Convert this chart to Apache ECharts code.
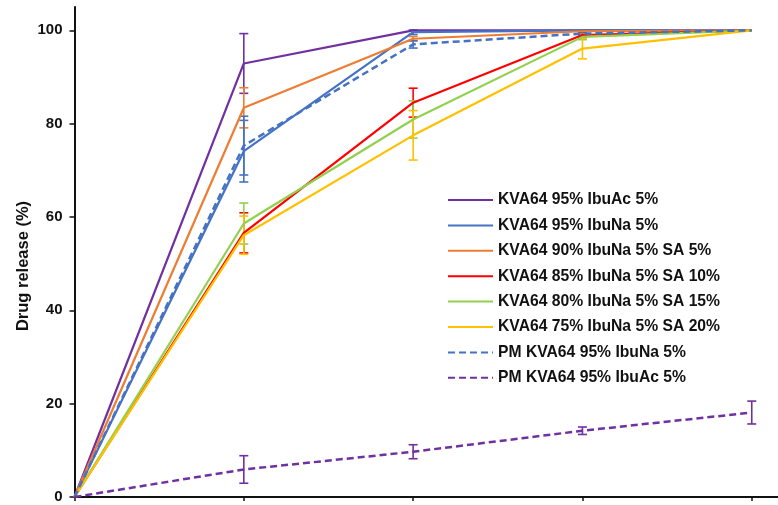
<!DOCTYPE html>
<html>
<head>
<meta charset="utf-8">
<script src="https://cdn.jsdelivr.net/npm/echarts@6/dist/echarts.min.js"></script>
<style>
html,body{margin:0;padding:0;background:#fff;}
#chart{width:778px;height:505px;}
</style>
</head>
<body>
<div id="chart"></div>
<script>
// Time points (x-axis has no printed labels in the reference; evenly spaced sampling points)
const timePoints = [0, 1, 2, 3, 4];
const yTicks = [0, 20, 40, 60, 80, 100];

const seriesNames = [
  'KVA64 95% IbuAc 5%',
  'KVA64 95% IbuNa 5%',
  'KVA64 90% IbuNa 5% SA 5%',
  'KVA64 85% IbuNa 5% SA 10%',
  'KVA64 80% IbuNa 5% SA 15%',
  'KVA64 75% IbuNa 5% SA 20%',
  'PM KVA64 95% IbuNa 5%',
  'PM KVA64 95% IbuAc 5%'
];

const ibuAc95 = [0, 92.9, 100, 100, 100];
const ibuAc95Err = [0, 6.4, 0, 0, 0];
const ibuNa95 = [0, 74.1, 99.6, 100, 100];
const ibuNa95Err = [0, 6.6, 0.5, 0, 0];
const sa5 = [0, 83.4, 98.2, 99.8, 100];
const sa5Err = [0, 4.3, 0.5, 0.2, 0];
const sa10 = [0, 56.6, 84.5, 99.0, 100];
const sa10Err = [0, 4.3, 3.1, 0.5, 0];
const sa15 = [0, 58.6, 80.9, 98.6, 100];
const sa15Err = [0, 4.4, 4.0, 0.6, 0];
const sa20 = [0, 56.1, 77.5, 96.1, 100];
const sa20Err = [0, 4.1, 5.3, 2.2, 0];
const pmIbuNa = [0, 75.3, 97.0, 99.3, 100];
const pmIbuNaErr = [0, 6.3, 0.8, 0.5, 0];
const pmIbuAc = [0, 5.9, 9.7, 14.2, 18.1];
const pmIbuAcErr = [0, 2.95, 1.5, 0.8, 2.45];

const values = [ibuAc95, ibuNa95, sa5, sa10, sa15, sa20, pmIbuNa, pmIbuAc];
const errors = [ibuAc95Err, ibuNa95Err, sa5Err, sa10Err, sa15Err, sa20Err, pmIbuNaErr, pmIbuAcErr];
const colors = ['#7030A0', '#4472C4', '#ED7D31', '#FF0000', '#92D050', '#FFC000', '#4472C4', '#7030A0'];
const dashed = [false, false, false, false, false, false, true, true];

const FONT = '"Liberation Sans", Arial, sans-serif';

const lineSeries = seriesNames.map((name, i) => ({
  name: name,
  type: 'line',
  symbol: 'none',
  z: 3,
  data: timePoints.map((t, j) => [t, values[i][j]]),
  lineStyle: {
    color: colors[i],
    width: dashed[i] ? 2.5 : 2.2,
    type: dashed[i] ? [7, 4] : 'solid'
  },
  itemStyle: { color: colors[i] }
}));

const errSeries = seriesNames.map((name, i) => ({
  name: name,
  type: 'custom',
  z: 2,
  data: timePoints.map((t, j) => [t, values[i][j], errors[i][j]]),
  renderItem: function (params, api) {
    const x = api.value(0), y = api.value(1), e = api.value(2);
    if (!e) return null;
    const top = api.coord([x, y + e]);
    const bot = api.coord([x, y - e]);
    const hw = 4.5;
    const st = { stroke: colors[i], lineWidth: 1.6 };
    return {
      type: 'group',
      children: [
        { type: 'line', shape: { x1: top[0], y1: top[1], x2: bot[0], y2: bot[1] }, style: st },
        { type: 'line', shape: { x1: top[0] - hw, y1: top[1], x2: top[0] + hw, y2: top[1] }, style: st },
        { type: 'line', shape: { x1: bot[0] - hw, y1: bot[1], x2: bot[0] + hw, y2: bot[1] }, style: st }
      ]
    };
  }
}));

const chart = echarts.init(document.getElementById('chart'), null, { renderer: 'canvas' });
chart.setOption({
  animation: false,
  backgroundColor: '#ffffff',
  grid: { left: 74.5, right: 0, top: 7, bottom: 8, containLabel: false },
  legend: {
    orient: 'vertical',
    left: 447,
    top: 192,
    padding: 0,
    itemWidth: 45,
    itemHeight: 14,
    itemGap: 9.4,
    data: seriesNames,
    itemStyle: { opacity: 0 },
    textStyle: { fontFamily: FONT, fontWeight: 'bold', fontSize: 15.7, color: '#111' }
  },
  xAxis: {
    type: 'value',
    min: 0,
    max: 4.155,
    interval: 1,
    axisLine: { show: true, lineStyle: { color: '#111', width: 2 } },
    axisTick: { show: true, length: 4, customValues: timePoints, lineStyle: { color: '#111', width: 1.5 } },
    axisLabel: { show: false },
    splitLine: { show: false }
  },
  yAxis: {
    type: 'value',
    min: 0,
    max: 105,
    interval: 20,
    name: 'Drug release (%)',
    nameLocation: 'middle',
    nameGap: 43,
    nameMoveOverlap: false,
    nameRotate: 90,
    nameTextStyle: { fontFamily: FONT, fontWeight: 'bold', fontSize: 16.5, color: '#111', padding: [0, 28, 0, 0] },
    axisLine: { show: true, lineStyle: { color: '#111', width: 2 } },
    axisTick: { show: true, length: 5, customValues: yTicks, lineStyle: { color: '#111', width: 1.5 } },
    axisLabel: { customValues: yTicks, margin: 12, fontFamily: FONT, fontWeight: 'bold', fontSize: 15, color: '#111' },
    splitLine: { show: false }
  },
  series: lineSeries.concat(errSeries)
});
</script>
</body>
</html>
